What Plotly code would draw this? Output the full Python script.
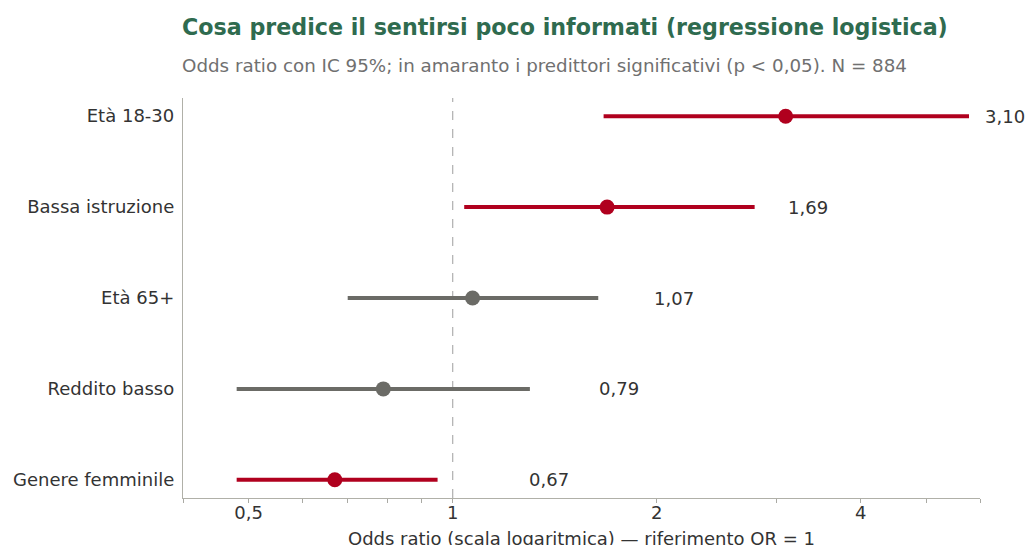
import math
import plotly.graph_objects as go

categories = ["Età 18-30", "Bassa istruzione", "Età 65+", "Reddito basso", "Genere femminile"]
odds_ratio = [3.10, 1.69, 1.07, 0.79, 0.67]
ci_low = [1.67, 1.04, 0.70, 0.48, 0.48]
ci_high = [5.78, 2.79, 1.64, 1.30, 0.95]
significant = [True, True, False, False, True]
labels = ["3,10", "1,69", "1,07", "0,79", "0,67"]

tick_vals = [0.4, 0.5, 0.6, 0.7, 0.8, 0.9, 1, 2, 3, 4, 5, 6]
tick_text = ["", "0,5", "", "", "", "", "1", "2", "", "4", "", ""]

RED = "#B0001E"
GREY = "#6B6B66"
FONT = "DejaVu Sans"

X_MIN, X_MAX = 0.4, 6.0
W, H = 1027, 545
M = dict(l=183, r=47, t=98, b=47)
px_per_dec = (W - M["l"] - M["r"]) / (math.log10(X_MAX) - math.log10(X_MIN))
LABEL_GAP = 0.35  # distanza dell'etichetta dal limite superiore, in unità OR

fig = go.Figure()

for cat, orv, lo, hi, sig in zip(categories, odds_ratio, ci_low, ci_high, significant):
    col = RED if sig else GREY
    fig.add_trace(go.Scatter(
        x=[lo, hi], y=[cat, cat], mode="lines",
        line=dict(color=col, width=4), showlegend=False, hoverinfo="skip",
    ))
    fig.add_trace(go.Scatter(
        x=[orv], y=[cat], mode="markers",
        marker=dict(color=col, size=15), showlegend=False,
    ))

annotations = []
for cat, hi, lab in zip(categories, ci_high, labels):
    shift = px_per_dec * (math.log10(hi + LABEL_GAP) - math.log10(hi))
    annotations.append(dict(
        x=math.log10(hi), y=cat, xref="x", yref="y", text=lab,
        xanchor="left", yanchor="middle", xshift=shift - 3, showarrow=False,
        font=dict(family=FONT, size=18, color="#333333"),
    ))

annotations += [
    dict(text="<b>Cosa predice il sentirsi poco informati (regressione logistica)</b>",
         xref="paper", yref="paper", x=0, y=1.1775, xanchor="left", yanchor="middle",
         xshift=-3, showarrow=False, font=dict(family=FONT, size=22.2, color="#2F6B4F")),
    dict(text="Odds ratio con IC 95%; in amaranto i predittori significativi (p < 0,05). N = 884",
         xref="paper", yref="paper", x=0, y=1.08, xanchor="left", yanchor="middle",
         xshift=-3, showarrow=False, font=dict(family=FONT, size=18.3, color="#707070")),
    dict(text="Odds ratio (scala logaritmica) — riferimento OR = 1",
         xref="paper", yref="paper", x=0.5, y=-0.1, xanchor="center", yanchor="middle",
         showarrow=False, font=dict(family=FONT, size=18, color="#333333")),
]

fig.add_shape(
    type="line", x0=1, x1=1, xref="x", y0=0, y1=1, yref="paper",
    line=dict(color="#B5B5B5", width=1.3, dash="dash"), layer="below",
)

fig.update_layout(
    width=W, height=H,
    margin=M,
    paper_bgcolor="white", plot_bgcolor="white",
    font=dict(family=FONT, size=18, color="#333333"),
    xaxis=dict(
        type="log", range=[math.log10(X_MIN), math.log10(X_MAX)],
        tickvals=tick_vals, ticktext=tick_text,
        ticks="outside", ticklen=4, tickcolor="#AAAAA4",
        showline=True, linecolor="#B0B0A8", linewidth=1.3,
        showgrid=False, zeroline=False, ticklabelstandoff=-6,
        automargin=False,
        tickfont=dict(size=18, color="#333333"),
    ),
    yaxis=dict(
        type="category", categoryarray=categories[::-1],
        range=[-0.2, 4.2], showgrid=False, zeroline=False,
        showline=True, linecolor="#B0B0A8", linewidth=1.3,
        ticks="", ticklabelstandoff=4, automargin=False,
        tickfont=dict(size=18, color="#333333"),
    ),
    annotations=annotations,
)

fig.write_html(
    "out.html",
    config={"displayModeBar": False},
    post_script="document.body.style.margin = '0';",
)
